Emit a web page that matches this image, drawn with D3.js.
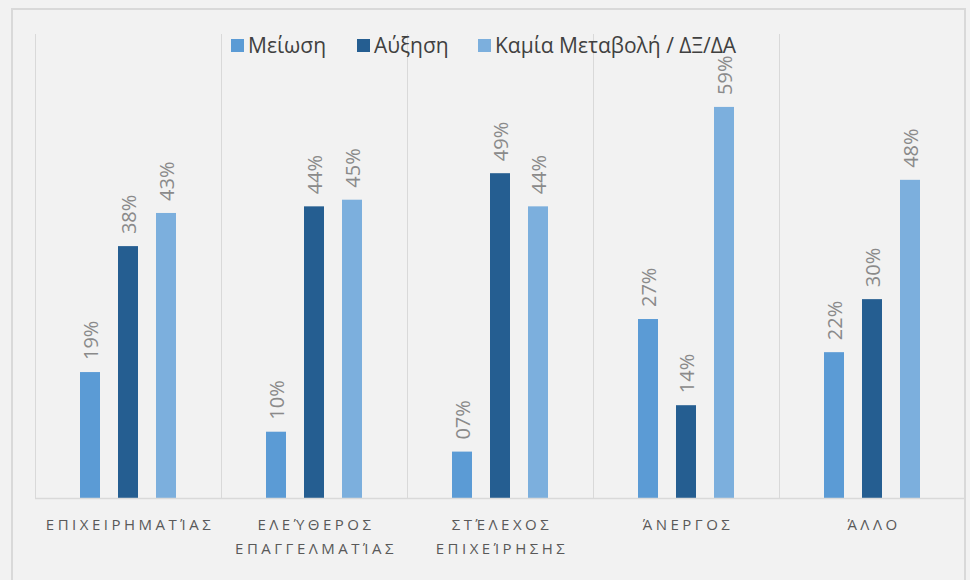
<!DOCTYPE html>
<html>
<head>
<meta charset="utf-8">
<script src="https://cdn.jsdelivr.net/npm/d3@7"></script>
<style>
body { margin: 0; background: #f2f2f2; }
svg { display: block; }
</style>
</head>
<body>
<div id="chart"></div>
<script>
var categories = [["ΕΠΙΧΕΙΡΗΜΑΤΊΑΣ"], ["ΕΛΕΎΘΕΡΟΣ", "ΕΠΑΓΓΕΛΜΑΤΊΑΣ"], ["ΣΤΈΛΕΧΟΣ", "ΕΠΙΧΕΊΡΗΣΗΣ"], ["ΆΝΕΡΓΟΣ"], ["ΆΛΛΟ"]];
var seriesNames = ["Μείωση", "Αύξηση", "Καμία Μεταβολή / ΔΞ/ΔΑ"];
var seriesColors = ["#5b9bd5", "#255e91", "#7cafdd"];
var meiosi = [0.19, 0.10, 0.07, 0.27, 0.22];
var afxisi = [0.38, 0.44, 0.49, 0.14, 0.30];
var kamia = [0.43, 0.45, 0.44, 0.59, 0.48];
var series = [meiosi, afxisi, kamia];
var labelFmt = function(v){ return d3.format("02d")(Math.round(v*100)) + "%"; };

var w = 970, h = 580;
var font = "'Open Sans', 'Noto Sans', sans-serif";
var svg = d3.select("#chart").append("svg")
    .attr("width", w)
    .attr("height", h);

// outer frame
svg.append("path")
    .attr("d", "M12,582 V9 H965 V582")
    .attr("fill", "none")
    .attr("stroke", "#d9d9d9")
    .attr("stroke-width", 2);

var x = d3.scaleBand()
    .domain(d3.range(categories.length))
    .range([35, 965]);

var y = d3.scaleLinear()
    .domain([0, 0.7])
    .range([498, 34]);

// category separators
svg.selectAll("line.sep")
    .data(d3.range(categories.length + 1))
    .enter()
    .append("line")
    .attr("class", "sep")
    .attr("x1", function(d){ return Math.round(35 + d * x.bandwidth()) + 0.5; })
    .attr("x2", function(d){ return Math.round(35 + d * x.bandwidth()) + 0.5; })
    .attr("y1", y(0.7))
    .attr("y2", y(0))
    .attr("stroke", "#d9d9d9")
    .attr("stroke-width", 1);

var barW = 20;
var offsets = [-38, 0, 38];

series.forEach(function(vals, si){
    var g = svg.append("g");
    g.selectAll("rect")
        .data(vals)
        .enter()
        .append("rect")
        .attr("x", function(d, i){ return x(i) + x.bandwidth()/2 + offsets[si] - barW/2; })
        .attr("y", function(d){ return y(d); })
        .attr("width", barW)
        .attr("height", function(d){ return y(0) - y(d); })
        .attr("fill", seriesColors[si]);

    g.selectAll("text")
        .data(vals)
        .enter()
        .append("text")
        .attr("transform", function(d, i){
            var cx = x(i) + x.bandwidth()/2 + offsets[si];
            return "translate(" + (cx + 8) + "," + (y(d) - 12) + ") rotate(-90)";
        })
        .text(labelFmt)
        .style("font-family", font)
        .style("font-size", "20px")
        .attr("fill", "#8a8a8a");
});

// baseline
svg.append("line")
    .attr("x1", 35).attr("x2", 965)
    .attr("y1", y(0) + 0.5).attr("y2", y(0) + 0.5)
    .attr("stroke", "#d9d9d9")
    .attr("stroke-width", 1.5);

// category labels
svg.selectAll("text.cat")
    .data(categories)
    .enter()
    .append("text")
    .attr("class", "cat")
    .attr("x", function(d, i){ return x(i) + x.bandwidth()/2 + 2; })
    .attr("y", 530)
    .attr("text-anchor", "middle")
    .style("font-family", font)
    .style("font-size", "15px")
    .style("letter-spacing", "3.5px")
    .attr("fill", "#595959")
    .each(function(d){
        var t = d3.select(this);
        d.forEach(function(line, k){
            t.append("tspan")
                .attr("x", t.attr("x"))
                .attr("dy", k === 0 ? 0 : 24)
                .text(line);
        });
    });

// legend
var legendX = [231, 357, 478];
var legend = svg.selectAll("g.legend")
    .data(seriesNames)
    .enter()
    .append("g")
    .attr("class", "legend")
    .attr("transform", function(d, i){ return "translate(" + legendX[i] + ",39)"; });

legend.append("rect")
    .attr("width", 13)
    .attr("height", 13)
    .attr("fill", function(d, i){ return seriesColors[i]; });

legend.append("text")
    .attr("x", 17)
    .attr("y", 14)
    .text(function(d){ return d; })
    .style("font-family", font)
    .style("font-size", "21px")
    .attr("fill", "#404040");
</script>
</body>
</html>
